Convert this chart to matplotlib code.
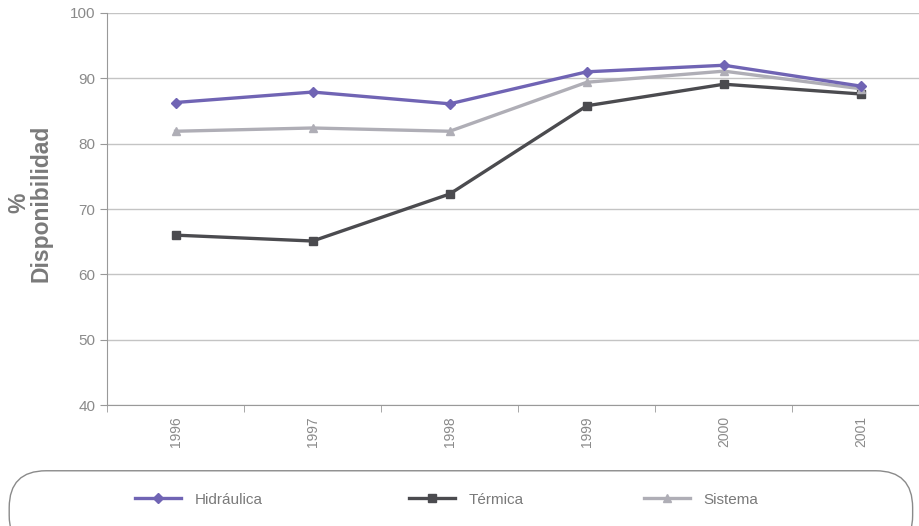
import matplotlib
matplotlib.use("Agg")
import matplotlib.pyplot as plt
from matplotlib.patches import FancyBboxPatch
import numpy as np

plt.rcParams['font.family'] = ['Liberation Sans', 'DejaVu Sans']

years = ['1996', '1997', '1998', '1999', '2000', '2001']
hidraulica = [86.3, 87.9, 86.1, 91.0, 92.0, 88.8]
termica = [66.0, 65.1, 72.3, 85.8, 89.1, 87.6]
sistema = [81.9, 82.4, 81.9, 89.4, 91.1, 88.4]

fig = plt.figure(figsize=(9.2, 5.26), dpi=100)
ax = fig.add_axes([0.1163, 0.23, 0.8837, 0.7453])

x = np.arange(len(years))
ax.plot(x, hidraulica, color='#7064b4', lw=2.4, marker='D', ms=5, label='Hidráulica', zorder=4)
ax.plot(x, termica, color='#4b4b4f', lw=2.4, marker='s', ms=6, label='Térmica', zorder=3)
ax.plot(x, sistema, color='#afaeb6', lw=2.4, marker='^', ms=6, label='Sistema', zorder=3)

ax.set_ylim(40, 100)
ax.set_xlim(-0.5, 5.43)
ax.set_yticks(range(40, 101, 10))
ax.yaxis.grid(True, color='#c4c4c4', lw=1)
ax.set_axisbelow(True)

ax.set_xticks(x)
ax.set_xticklabels(years, rotation=90, color='#8a8a8a', fontsize=10)
ax.set_xticks(np.arange(-0.5, 5.4, 1), minor=True)
ax.tick_params(axis='x', which='major', length=0, pad=8)
ax.tick_params(axis='x', which='minor', length=5, color='#999999', direction='out')
ax.tick_params(axis='y', length=5, color='#999999', labelcolor='#8a8a8a', labelsize=11)

for s in ['top', 'right']:
    ax.spines[s].set_visible(False)
for s in ['left', 'bottom']:
    ax.spines[s].set_color('#999999')

ax.set_ylabel('%\nDisponibilidad', color='#7a7a7a', fontsize=16.5, fontweight='bold',
              linespacing=0.95)
ax.yaxis.set_label_coords(-0.067, 0.515)

# rounded legend box below the plot
box = FancyBboxPatch((0.010, -0.05), 0.982, 0.155, transform=fig.transFigure,
                     boxstyle='round,pad=0,rounding_size=0.04', mutation_aspect=9.2 / 5.26,
                     fc='white', ec='#8a8a8a', lw=1.0, clip_on=False)
fig.patches.append(box)

# one legend entry per slot inside the box
handles, labels = ax.get_legend_handles_labels()
slots = [135 / 920, 409 / 920, 644 / 920]
for h, l, sx in zip(handles, labels, slots):
    leg = fig.legend([h], [l], loc='center left', bbox_to_anchor=(sx, 0.05), frameon=False,
                     fontsize=11, handlelength=3.0, handletextpad=0.9,
                     borderpad=0, borderaxespad=0)
    for t in leg.get_texts():
        t.set_color('#7a7a7a')

fig.savefig('out.png', dpi=100)
